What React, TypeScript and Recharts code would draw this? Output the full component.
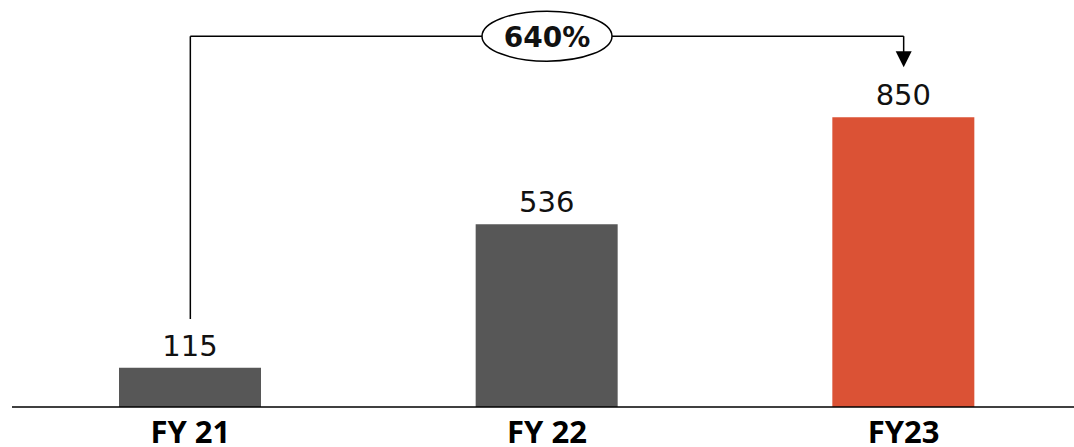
import { BarChart, Bar, XAxis, YAxis, Cell, LabelList, ReferenceLine, ReferenceDot } from "recharts";

const categories = ["FY 21", "FY 22", "FY23"];
const revenue = [115, 536, 850];
const barColors = ["#575757", "#575757", "#DB5235"];
const growthLabel = "640%";

// annotation levels, in value units
const connectorLevel = 1088;
const connectorStart = 258;
const arrowLevel = 1020;

const data = categories.map((name, i) => ({ name, value: revenue[i] }));

const GrowthBubble = (props: any) => {
  const { cx, cy } = props;
  return (
    <g>
      <ellipse cx={cx} cy={cy} rx={65} ry={25} fill="#fff" stroke="#000" strokeWidth={1.5} />
      <text
        x={cx}
        y={cy + 1}
        textAnchor="middle"
        dominantBaseline="central"
        fontFamily="DejaVu Sans"
        fontWeight="bold"
        fontSize={28}
        fill="#111"
      >
        {growthLabel}
      </text>
    </g>
  );
};

const ArrowHead = (props: any) => {
  const { cx, cy } = props;
  return <path d={`M ${cx - 8} ${cy - 8} L ${cx + 8} ${cy - 8} L ${cx} ${cy + 8} Z`} fill="#000" />;
};

export default function App() {
  return (
    <div style={{ position: "absolute", left: 0, top: 0, width: 1074, height: 447, overflow: "hidden", background: "#fff" }}>
      <BarChart width={1082} height={447} data={data} margin={{ top: 0, right: 0, left: 12, bottom: 0 }}>
        <YAxis hide domain={[0, 1194]} />
        <XAxis
          dataKey="name"
          height={40}
          tickLine={false}
          tickMargin={8}
          axisLine={{ stroke: "#000", strokeWidth: 1.5 }}
          tick={{ fontSize: 31, fontWeight: "bold", fill: "#000", fontFamily: "Open Sans" }}
        />
        <Bar dataKey="value" barSize={142} isAnimationActive={false}>
          {data.map((d, i) => (
            <Cell key={d.name} fill={barColors[i]} />
          ))}
          <LabelList dataKey="value" position="top" offset={12} fill="#111" fontSize={29} fontFamily="DejaVu Sans" />
        </Bar>
        <ReferenceLine
          segment={[{ x: categories[0], y: connectorStart }, { x: categories[0], y: connectorLevel }]}
          stroke="#000"
          strokeWidth={1.5}
          ifOverflow="visible"
        />
        <ReferenceLine
          segment={[{ x: categories[0], y: connectorLevel }, { x: categories[2], y: connectorLevel }]}
          stroke="#000"
          strokeWidth={1.5}
          ifOverflow="visible"
        />
        <ReferenceLine
          segment={[{ x: categories[2], y: connectorLevel }, { x: categories[2], y: arrowLevel + 20 }]}
          stroke="#000"
          strokeWidth={1.5}
          ifOverflow="visible"
        />
        <ReferenceDot x={categories[2]} y={arrowLevel} ifOverflow="visible" shape={ArrowHead} />
        <ReferenceDot x={categories[1]} y={connectorLevel} ifOverflow="visible" shape={GrowthBubble} />
      </BarChart>
    </div>
  );
}
